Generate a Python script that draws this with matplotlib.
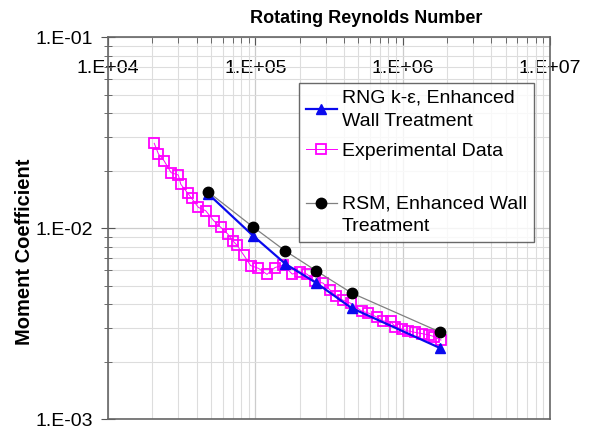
import numpy as np
import matplotlib
matplotlib.use("Agg")
import matplotlib.pyplot as plt
from matplotlib.ticker import LogLocator, FuncFormatter, NullFormatter

plt.rcParams['font.family'] = ['Liberation Sans', 'DejaVu Sans']

# RNG k-eps, enhanced wall treatment
rng_re = [4.8e4, 9.7e4, 1.6e5, 2.6e5, 4.5e5, 1.8e6]
rng_cm = [0.01506, 0.00908, 0.00649, 0.00515, 0.00381, 0.00235]

# RSM, enhanced wall treatment
rsm_re = [4.8e4, 9.7e4, 1.6e5, 2.6e5, 4.5e5, 1.8e6]
rsm_cm = [0.01542, 0.0101, 0.00758, 0.00596, 0.00457, 0.00285]

# experimental data
exp_re = [2.06e4, 2.20e4, 2.40e4, 2.68e4, 3.00e4, 3.12e4, 3.48e4, 3.70e4,
          4.10e4, 4.60e4, 5.24e4, 5.82e4, 6.50e4, 7.02e4, 7.48e4, 8.38e4,
          9.28e4, 1.05e5, 1.20e5, 1.36e5, 1.55e5, 1.78e5, 2.01e5, 2.24e5,
          2.54e5, 2.88e5, 3.21e5, 3.53e5, 3.91e5, 4.46e5, 5.28e5, 5.85e5,
          6.65e5, 7.40e5, 8.28e5, 8.88e5, 9.86e5, 1.09e6, 1.22e6, 1.35e6,
          1.52e6, 1.63e6, 1.82e6]
exp_cm = [0.02776, 0.02440, 0.02251, 0.01948, 0.01895, 0.01694, 0.01520,
          0.01430, 0.01283, 0.01232, 0.01088, 0.01009, 0.00930, 0.00858,
          0.00815, 0.00718, 0.00636, 0.00615, 0.00572, 0.00621, 0.00640,
          0.00574, 0.00588, 0.00574, 0.00525, 0.00515, 0.00474, 0.00443,
          0.00420, 0.00403, 0.00367, 0.00359, 0.00342, 0.00326, 0.00324,
          0.00305, 0.00296, 0.00289, 0.00284, 0.00280, 0.00275, 0.00270,
          0.00259]

# blank first line on the RSM entry gives the gap seen in the legend
labels = ['RNG k-\u03b5, Enhanced\nWall Treatment', 'Experimental Data',
          '\nRSM, Enhanced Wall\nTreatment']

fig = plt.figure(figsize=(5.9, 4.29), dpi=100)
ax = fig.add_axes([0.1831, 0.0233, 0.749, 0.8904])

ax.plot(rng_re, rng_cm, color='#0a0aee', lw=1.6, marker='^', ms=7,
        label=labels[0], zorder=4)
ax.plot(exp_re, exp_cm, color='#ff00ff', lw=0.7, marker='s', ms=7.2,
        mfc='none', mec='#ff00ff', mew=1.3, label=labels[1], zorder=3)
ax.plot(rsm_re, rsm_cm, color='#808080', lw=0.9, marker='o', ms=7.5,
        mfc='black', mec='black', label=labels[2], zorder=5)

ax.set_xscale('log')
ax.set_yscale('log')
ax.set_xlim(1e4, 1e7)
ax.set_ylim(1e-3, 1e-1)

fmt = FuncFormatter(lambda v, p: f"1.E{int(round(np.log10(v))):+03d}")
ax.xaxis.set_major_locator(LogLocator(base=10, numticks=10))
ax.yaxis.set_major_locator(LogLocator(base=10, numticks=10))
ax.xaxis.set_minor_locator(LogLocator(base=10, subs=np.arange(2, 10), numticks=20))
ax.yaxis.set_minor_locator(LogLocator(base=10, subs=np.arange(2, 10), numticks=20))
ax.xaxis.set_major_formatter(fmt)
ax.yaxis.set_major_formatter(fmt)
ax.xaxis.set_minor_formatter(NullFormatter())
ax.yaxis.set_minor_formatter(NullFormatter())

# x labels sit inside the frame just under the top edge
ax.xaxis.tick_top()
ax.tick_params(axis='x', which='major', direction='in', length=6, pad=-29,
               labelsize=14, colors='#555555', labelcolor='black')
ax.tick_params(axis='x', which='minor', direction='in', length=4, colors='#555555')
ax.tick_params(axis='y', which='major', direction='inout', length=10, pad=6,
               labelsize=14, colors='#555555', labelcolor='black')
ax.tick_params(axis='y', which='minor', direction='inout', length=6, colors='#555555')

ax.grid(True, which='major', color='#cccccc', lw=0.9)
ax.grid(True, which='minor', color='#dddddd', lw=0.8)
ax.set_axisbelow(True)
for s in ax.spines.values():
    s.set_color('#666666')
    s.set_linewidth(1.2)

leg = ax.legend(loc='upper left', bbox_to_anchor=(0.432, 0.880), borderaxespad=0,
                fontsize=14, frameon=True, fancybox=False, edgecolor='#444444',
                handlelength=1.6, handletextpad=0.25, labelspacing=0.65,
                borderpad=0.35)
leg.get_frame().set_linewidth(1.0)
for t in leg.get_texts():
    t.set_linespacing(1.45)

fig.text(0.62, 0.958, 'Rotating Reynolds Number', ha='center', va='center',
         fontsize=13, fontweight='bold')
fig.text(0.042, 0.413, 'Moment Coefficient', ha='center', va='center',
         rotation=90, fontsize=14.5, fontweight='bold')

fig.savefig('out.png', dpi=100)
